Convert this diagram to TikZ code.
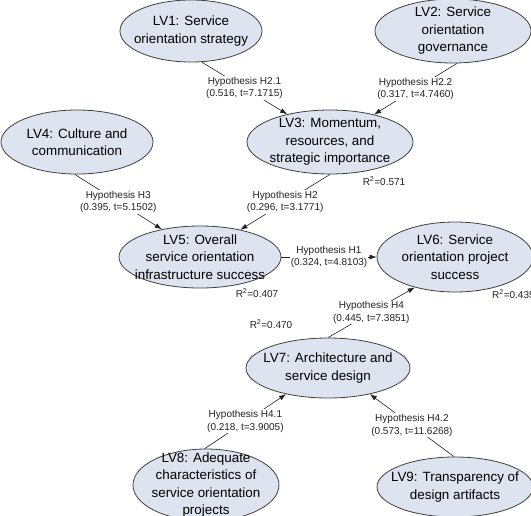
\documentclass[tikz,border=0pt]{standalone}
\usepackage{fontspec}
\setmainfont{Liberation Sans}
\usepackage{tikz}
\usetikzlibrary{arrows.meta,positioning,shapes.geometric}
\definecolor{lvfill}{HTML}{DEE3F0}
\definecolor{bk80}{HTML}{404040}
\definecolor{bk90}{HTML}{222222}
\tikzset{
  lvbox/.style={
    ellipse, draw=bk80, fill=lvfill, line width=0.8pt,
    inner sep=0pt
  },
  lvtext/.style={
    font=\fontsize{13.4}{17.5}\selectfont, align=center, text=black
  },
  hyparrow/.style={
    -{Latex[length=7pt,width=5pt]}, line width=0.6pt, color=bk90
  },
  hyplabel/.style={
    fill=white, font=\fontsize{10}{12.5}\selectfont, align=center,
    inner sep=1pt, text=bk90
  },
  rlabel/.style={
    font=\fontsize{10}{12}\selectfont, text=bk90, inner sep=0pt
  },
}

\begin{document}
\begin{tikzpicture}[x=1pt, y=-1pt]
\useasboundingbox (0,0) rectangle (531,515);

% Latent variables
\node[lvbox, minimum width=142, minimum height=62,
  label={[lvtext]center:{LV1: Service\\orientation strategy}}] (lv1) at (191,31) {};
\node[lvbox, minimum width=156, minimum height=64,
  label={[lvtext]center:{LV2: Service\\orientation\\governance}}] (lv2) at (453,31) {};
\node[lvbox, minimum width=166, minimum height=64,
  label={[lvtext]center:{LV3: Momentum,\\resources, and\\strategic importance}}] (lv3) at (330,142) {};
\node[lvbox, minimum width=152, minimum height=64,
  label={[lvtext]center:{LV4: Culture and\\communication}}] (lv4) at (77,142) {};
\node[lvbox, minimum width=162, minimum height=62,
  label={[lvtext]center:{LV5: Overall\\service orientation\\infrastructure success}}] (lv5) at (200,257) {};
\node[lvbox, minimum width=156, minimum height=70,
  label={[lvtext]center:{LV6: Service\\orientation project\\success}}] (lv6) at (455,257) {};
\node[lvbox, minimum width=164, minimum height=60,
  label={[lvtext]center:{LV7: Architecture and\\service design}}] (lv7) at (328,368) {};
\node[lvbox, minimum width=146, minimum height=72,
  label={[lvtext]center:{LV8: Adequate\\characteristics of\\service orientation\\projects}}] (lv8) at (206,485) {};
\node[lvbox, minimum width=156, minimum height=60,
  label={[lvtext]center:{LV9: Transparency of\\design artifacts}}] (lv9) at (455,487) {};

% Hypotheses into LV3
\draw[hyparrow] (lv1.-71) -- node[hyplabel, midway] {Hypothesis H2.1\\(0.516, t=7.1715)} (lv3.147);
\draw[hyparrow] (lv2.-83) -- node[hyplabel, midway] {Hypothesis H2.2\\(0.317, t=4.7460)} (lv3.32);

% Hypotheses into LV5
\draw[hyparrow] (lv4.-94) -- node[hyplabel, midway] {Hypothesis H3\\(0.395, t=5.1502)} (lv5.144);
\draw[hyparrow] (lv3.-90) -- node[hyplabel, midway] {Hypothesis H2\\(0.296, t=3.1771)} (lv5.34);

% Hypotheses into LV6
\draw[hyparrow] (lv5.0) -- node[hyplabel, midway] {Hypothesis H1\\(0.324, t=4.8103)} (lv6.180);
\draw[hyparrow] (lv7.90) -- node[hyplabel, midway] {Hypothesis H4\\(0.445, t=7.3851)} (lv6.-143);

% Hypotheses into LV7
\draw[hyparrow] (lv8.92) -- node[hyplabel, midway] {Hypothesis H4.1\\(0.218, t=3.9005)} (lv7.-148);
\draw[hyparrow] (lv9.92) -- node[hyplabel, midway] {Hypothesis H4.2\\(0.573, t=11.6268)} (lv7.-32);

% R-squared values
\node[rlabel] (r3) at (384,181) {R\textsuperscript{2}=0.571};
\node[rlabel] (r5) at (257,293) {R\textsuperscript{2}=0.407};
\node[rlabel, anchor=west] (r6) at (492,294) {R\textsuperscript{2}=0.435};
\node[rlabel] (r7) at (271,324) {R\textsuperscript{2}=0.470};

\end{tikzpicture}
\end{document}
